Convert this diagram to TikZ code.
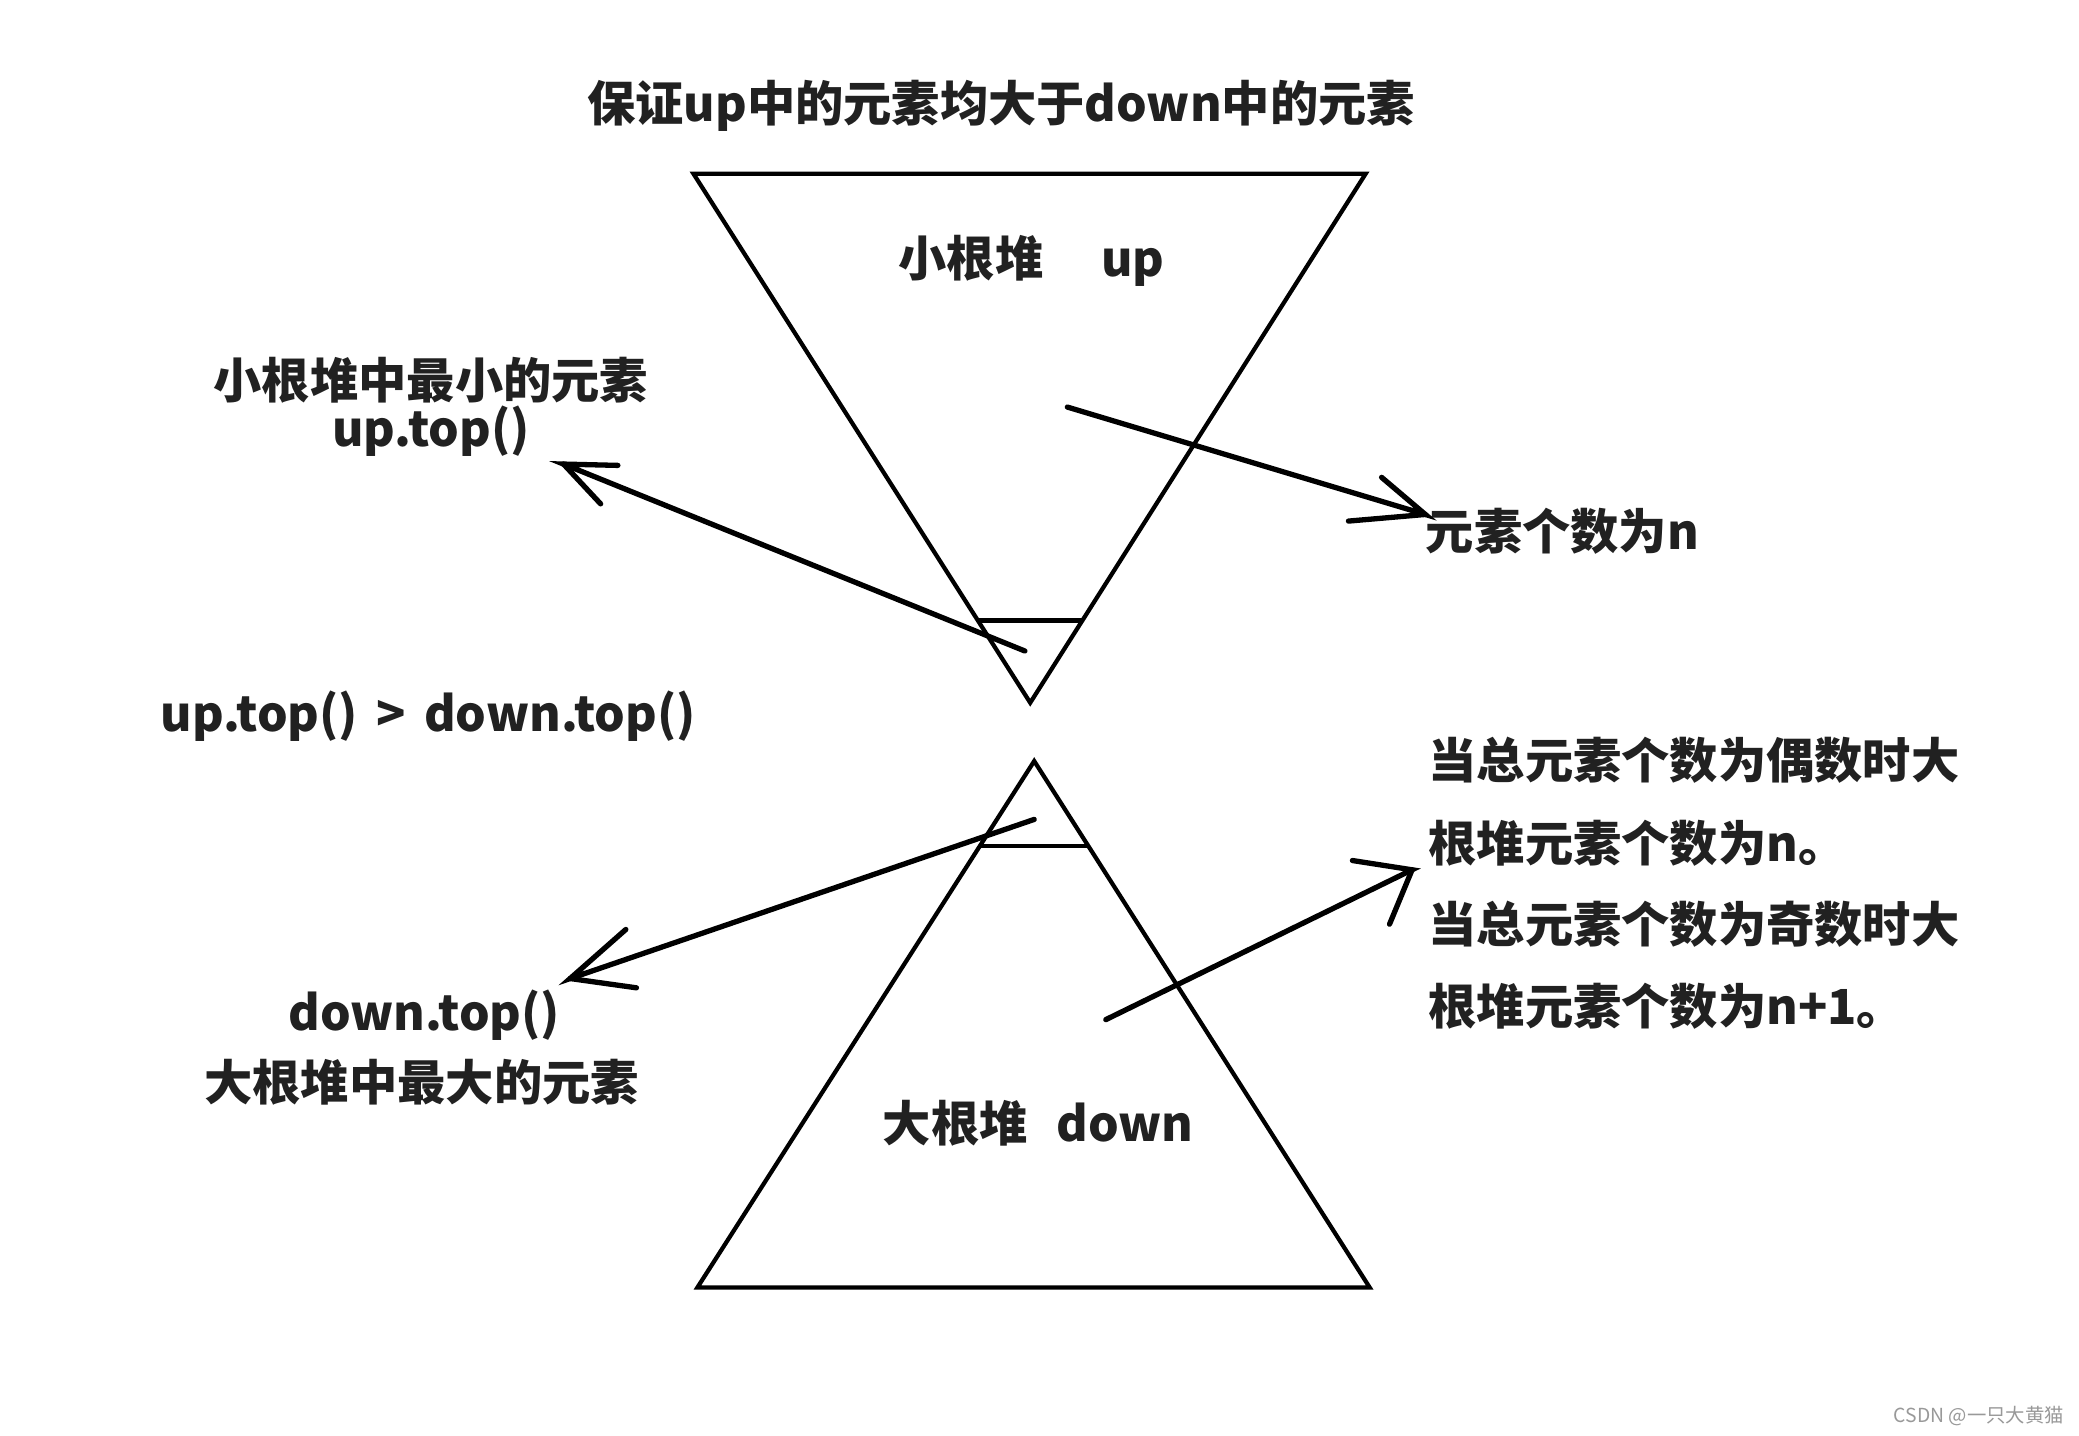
\documentclass[tikz,border=0pt]{standalone}
\usepackage{fontspec}
\setmainfont{Noto Sans CJK SC}
\begin{document}
\begin{tikzpicture}[x=0.5pt,y=-0.5pt,
  tri/.style={line width=1.6pt,line join=miter},
  arr/.style={line width=2pt,line cap=round},
  lbl/.style={inner sep=0pt,text=black!87,font=\fontsize{18.2}{20}\selectfont\bfseries},
  wmark/.style={inner sep=0pt,text=black!40,font=\fontsize{7.3}{8}\selectfont}]
\fill[white] (0,0) rectangle (1568,1083);
\useasboundingbox (0,0) rectangle (1568,1083);

% title
\node[lbl] (title) at (755,80) {保证up中的元素均大于down中的元素};

% upper (inverted) triangle
\coordinate (u1) at (523,131);
\coordinate (u2) at (1030,131);
\coordinate (u3) at (777,530);
\draw[tri] (u1) -- (u2) -- (u3) -- cycle;
\coordinate (ul) at (738,468);
\coordinate (ur) at (816,468);
\draw[tri] (ul) -- (ur);
\node[lbl] (uplbl) at (778,197) {小根堆\hspace{1.2em}up};

% lower triangle
\coordinate (d1) at (780,574);
\coordinate (d2) at (1033,971);
\coordinate (d3) at (526,971);
\draw[tri] (d1) -- (d2) -- (d3) -- cycle;
\coordinate (dl) at (739,638);
\coordinate (dr) at (821,638);
\draw[tri] (dl) -- (dr);
\node[lbl] (downlbl) at (783,847) {大根堆\hspace{0.6em}down};

% left labels
\node[lbl] (minA) at (325,287) {小根堆中最小的元素};
\node[lbl] (minB) at (325,325) {up.top()};
\node[lbl] (cmp) at (323,540) {up.top()\hspace{0.38em}>\hspace{0.38em}down.top()};
\node[lbl] (maxA) at (320,766) {down.top()};
\node[lbl] (maxB) at (318,816) {大根堆中最大的元素};

% right labels
\node[lbl,anchor=west] (cnt) at (1075,401) {元素个数为n};
\node[lbl,anchor=west] (r1) at (1077,573) {当总元素个数为偶数时大};
\node[lbl,anchor=west] (r2) at (1077,636) {根堆元素个数为n。};
\node[lbl,anchor=west] (r3) at (1077,697) {当总元素个数为奇数时大};
\node[lbl,anchor=west] (r4) at (1077,759) {根堆元素个数为n+1。};

% arrows
\coordinate (a1s) at (773,491);
\coordinate (a1t) at (425,350);
\draw[arr] (a1s) -- (a1t) -- (466,351);
\draw[arr] (a1t) -- (453,380);

\coordinate (a2s) at (805,307);
\coordinate (a2t) at (1075,388);
\draw[arr] (a2s) -- (a2t) -- (1042,360);
\draw[arr] (a2t) -- (1017,393);

\coordinate (a3s) at (780,618);
\coordinate (a3t) at (430,738);
\draw[arr] (a3s) -- (a3t) -- (472,701);
\draw[arr] (a3t) -- (480,745);

\coordinate (a4s) at (834,769);
\coordinate (a4t) at (1065,656);
\draw[arr] (a4s) -- (a4t) -- (1020,649);
\draw[arr] (a4t) -- (1048,697);

% watermark
\node[wmark,anchor=east] (wm) at (1557,1068) {CSDN @一只大黄猫};
\end{tikzpicture}
\end{document}
